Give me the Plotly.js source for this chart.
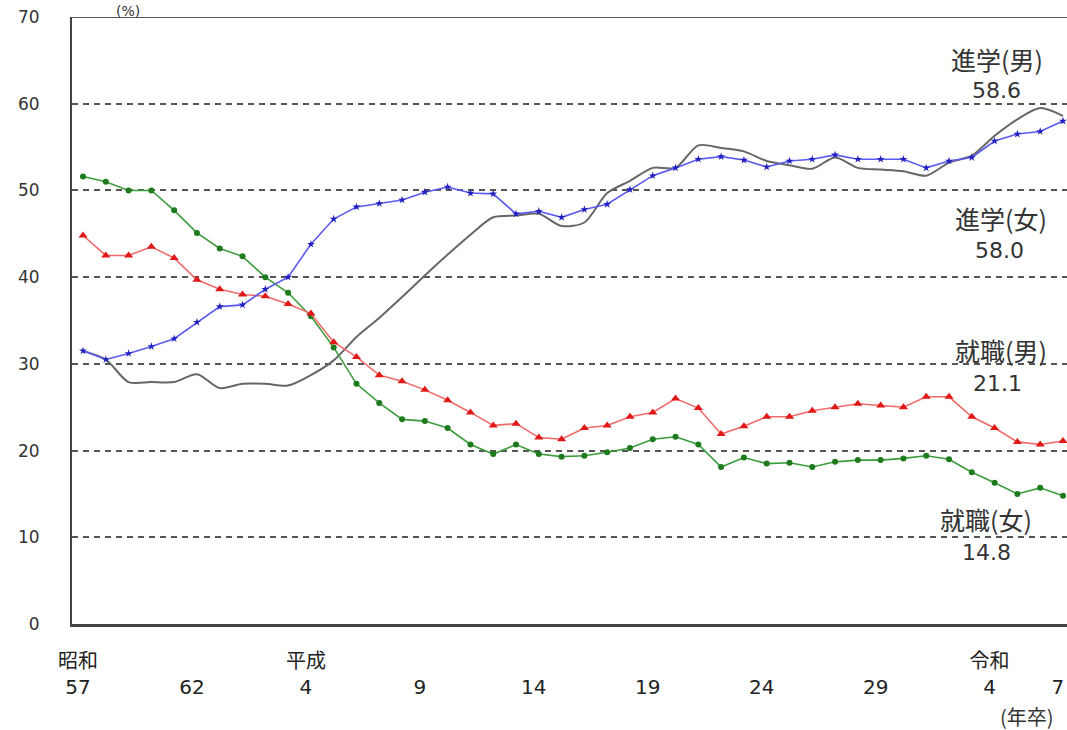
<!DOCTYPE html>
<html>
<head>
<meta charset="utf-8">
<script src="https://cdn.plot.ly/plotly-3.0.1.min.js"></script>
<style>html,body{margin:0;padding:0;background:#fff;}#chart{width:1067px;height:730px;}</style>
</head>
<body>
<div id="chart"></div>
<script>
// ---- data ----
const years = [1982,1983,1984,1985,1986,1987,1988,1989,1990,1991,1992,1993,1994,1995,1996,1997,1998,1999,2000,2001,2002,2003,2004,2005,2006,2007,2008,2009,2010,2011,2012,2013,2014,2015,2016,2017,2018,2019,2020,2021,2022,2023,2024,2025];
const shingakuMale   = [31.5,30.5,27.9,27.9,27.9,28.8,27.2,27.7,27.7,27.5,28.7,30.4,33.1,35.3,37.7,40.2,42.6,44.9,46.9,47.1,47.3,45.9,46.3,49.7,51.1,52.6,52.6,55.2,54.9,54.5,53.4,52.9,52.5,53.8,52.6,52.4,52.2,51.7,53.2,54.0,56.3,58.2,59.5,58.6];
const shingakuFemale = [31.5,30.5,31.2,32.0,32.9,34.8,36.6,36.8,38.6,40.0,43.8,46.7,48.1,48.5,48.9,49.8,50.4,49.7,49.6,47.3,47.6,46.9,47.8,48.4,50.1,51.7,52.6,53.6,53.9,53.5,52.7,53.4,53.6,54.1,53.6,53.6,53.6,52.6,53.4,53.8,55.7,56.5,56.8,58.0];
const shushokuMale   = [44.8,42.5,42.5,43.5,42.2,39.7,38.6,38.0,37.8,36.9,35.8,32.5,30.8,28.7,28.0,27.0,25.8,24.4,22.9,23.1,21.5,21.3,22.6,22.9,23.9,24.4,26.0,24.9,21.9,22.8,23.9,23.9,24.6,25.0,25.4,25.2,25.0,26.2,26.2,23.9,22.6,21.0,20.7,21.1];
const shushokuFemale = [51.6,51.0,50.0,50.0,47.7,45.1,43.3,42.4,40.0,38.2,35.5,31.9,27.7,25.5,23.6,23.4,22.6,20.7,19.6,20.7,19.6,19.3,19.4,19.8,20.3,21.3,21.6,20.7,18.1,19.2,18.5,18.6,18.1,18.7,18.9,18.9,19.1,19.4,19.0,17.5,16.3,15.0,15.7,14.8];
const seriesNames = ["進学(男)","進学(女)","就職(男)","就職(女)"];
const tickYears = [1982,1987,1992,1997,2002,2007,2012,2017,2022,2025];
const tickLabels = ["昭和<br>57","<br>62","平成<br>4","<br>9","<br>14","<br>19","<br>24","<br>29","令和<br>4","<br>7"];
const yTicks = [0,10,20,30,40,50,60,70];

// ---- layout helpers ----
const W = 1067, H = 730;
const M = {l:72, r:0, t:17, b:106};
const PW = W - M.l - M.r, PH = H - M.t - M.b;
const px = x => (x - M.l) / PW;
const py = y => (H - M.b - y) / PH;
const pxPerYear = 22.79;
const xr0 = 1982 - 11 / pxPerYear;
const xr1 = xr0 + PW / pxPerYear;

const cjk = '"Noto Sans CJK JP", sans-serif';
const num = '"DejaVu Sans", "Noto Sans CJK JP", sans-serif';

const traces = [
  {x: years, y: shingakuMale, name: seriesNames[0], mode: 'lines',
   line: {color: '#666666', width: 2, shape: 'spline', smoothing: 0.8}},
  {x: years, y: shushokuFemale, name: seriesNames[3], mode: 'lines+markers',
   line: {color: '#3c9c3c', width: 1.6},
   marker: {symbol: 'circle', size: 6, color: '#1d7a1d'}},
  {x: years, y: shushokuMale, name: seriesNames[2], mode: 'lines+markers',
   line: {color: '#f06a6a', width: 1.6},
   marker: {symbol: 'triangle-up', size: 8, color: '#e01818'}},
  {x: years, y: shingakuFemale, name: seriesNames[1], mode: 'lines+markers',
   line: {color: '#5a5af0', width: 1.6},
   marker: {symbol: 'star', size: 6, color: '#2020c0'}}
];

const last = a => a[a.length - 1].toFixed(1);
const lab = (text, x, y, size, fam) => ({
  text: text, xref: 'paper', yref: 'paper', x: px(x), y: py(y),
  xanchor: 'center', yanchor: 'middle', showarrow: false,
  font: {family: fam, size: size, color: '#333333'}
});

const annotations = [
  lab(seriesNames[0], 997, 59, 25, cjk),
  lab(last(shingakuMale), 996, 90, 22, num),
  lab(seriesNames[1], 1001, 218, 25, cjk),
  lab(last(shingakuFemale), 999, 251, 22, num),
  lab(seriesNames[2], 1001, 350, 25, cjk),
  lab(last(shushokuMale), 997, 383, 22, num),
  lab(seriesNames[3], 986, 519, 25, cjk),
  lab(last(shushokuFemale), 986, 552, 22, num),
  lab('(年卒)', 1027, 716, 20, cjk),
  Object.assign(lab('(%)', 128, 2, 14, num), {yanchor: 'top', borderpad: 0})
];

const layout = {
  width: W, height: H,
  margin: M,
  paper_bgcolor: '#ffffff', plot_bgcolor: '#ffffff',
  showlegend: false,
  xaxis: {
    range: [xr0, xr1], tickmode: 'array', tickvals: tickYears, ticktext: tickLabels,
    showgrid: false, zeroline: false, showline: true, linecolor: '#444444', linewidth: 3,
    ticks: '', ticklabelstandoff: 17, ticklabelshift: -5,
    tickfont: {family: num, size: 20, color: '#222222'}
  },
  yaxis: {
    range: [0, 70], tickmode: 'array', tickvals: yTicks,
    showgrid: true, gridcolor: '#555555', gridwidth: 2, griddash: '6px,5px',
    zeroline: false, showline: true, linecolor: '#444444', linewidth: 2,
    ticks: '', ticklabelstandoff: 27,
    tickfont: {family: num, size: 17, color: '#333333'}
  },
  shapes: [
    {type: 'line', xref: 'paper', yref: 'y', x0: 0, x1: 1, y0: 70, y1: 70,
     line: {color: '#555555', width: 2}}
  ],
  annotations: annotations
};

Plotly.newPlot('chart', traces, layout, {staticPlot: true, displayModeBar: false});
</script>
</body>
</html>
